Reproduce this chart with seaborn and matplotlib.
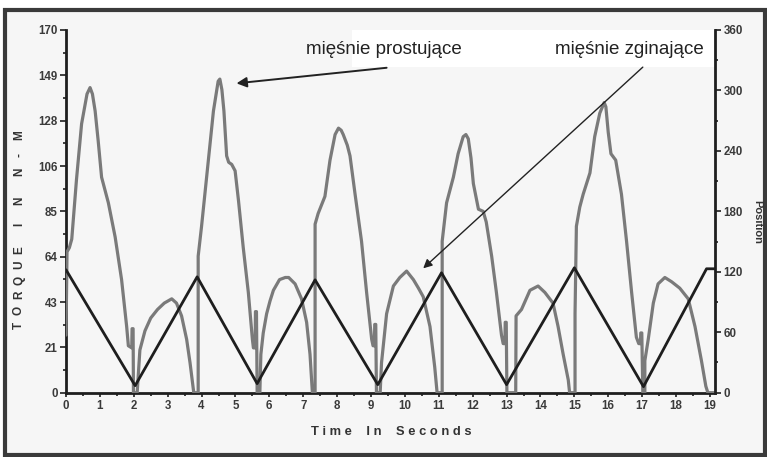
import numpy as np
import pandas as pd
import matplotlib
matplotlib.use("Agg")
import matplotlib.pyplot as plt
import seaborn as sns
from matplotlib.patches import Rectangle
from matplotlib.ticker import FixedLocator, MultipleLocator

# ---------------- data ----------------
torque_time = [
    0.00, 0.03, 0.10, 0.17, 0.31, 0.46, 0.62, 0.71, 0.78, 0.86, 0.95, 1.05, 1.15, 1.25, 1.45, 1.64, 1.79, 1.84,
    1.94, 1.95, 1.98, 1.99, 2.10,
    2.14, 2.18, 2.33, 2.50, 2.70, 2.90, 3.12, 3.26, 3.41, 3.56, 3.66, 3.74, 3.77, 3.90,
    3.90, 4.00, 4.20, 4.35, 4.49, 4.54, 4.60, 4.66, 4.74, 4.80, 4.89, 4.99, 5.09, 5.23, 5.38, 5.50, 5.53,
    5.58, 5.59, 5.62, 5.64, 5.72,
    5.75, 5.82, 5.92, 6.02, 6.12, 6.30, 6.47, 6.57, 6.76, 6.95, 7.10, 7.20, 7.27, 7.35,
    7.35, 7.44, 7.64, 7.79, 7.94, 8.04, 8.12, 8.18, 8.30, 8.38, 8.53, 8.72, 8.87, 9.02, 9.06,
    9.10, 9.11, 9.14, 9.16, 9.27,
    9.31, 9.46, 9.66, 9.85, 10.05, 10.25, 10.40, 10.54, 10.74, 10.88, 10.95, 11.10,
    11.10, 11.23, 11.43, 11.57, 11.72, 11.80, 11.87, 11.95, 12.02, 12.17, 12.31, 12.40, 12.56, 12.70, 12.85,
    12.90, 12.95, 12.96, 12.99, 13.01, 13.27,
    13.28, 13.44, 13.69, 13.93, 14.13, 14.37, 14.52, 14.67, 14.82, 14.86, 15.02,
    15.02, 15.06, 15.16, 15.26, 15.46, 15.60, 15.75, 15.88, 15.93, 16.00, 16.08, 16.22, 16.39, 16.54, 16.69,
    16.83, 16.90, 16.95, 16.96, 16.99, 17.02, 17.08,
    17.08, 17.18, 17.33, 17.47, 17.67, 17.87, 18.11, 18.36, 18.56, 18.75, 18.88, 18.94, 19.15,
]
torque_val = [
    27, 66, 68, 72, 100, 126, 140, 143, 140, 132, 118, 101, 95, 89, 73, 53, 31, 22,
    21, 30, 30, 0, 0,
    10, 20, 29, 35, 39, 42, 44, 42, 36, 25, 14, 4, 0, 0,
    64, 78, 109, 132, 146, 147, 142, 132, 111, 108, 107, 104, 90, 68, 47, 25, 21,
    21, 38, 38, 0, 0,
    18, 28, 37, 43, 48, 53, 54, 54, 51, 44, 33, 18, 0, 0,
    79, 84, 92, 109, 121, 124, 123, 121, 116, 111, 93, 71, 47, 25, 22,
    22, 32, 32, 0, 0,
    14, 37, 50, 54, 57, 53, 49, 45, 31, 12, 0, 0,
    71, 89, 101, 112, 120, 121, 119, 110, 98, 86, 85, 80, 64, 47, 27,
    23, 23, 33, 33, 0, 0,
    36, 39, 48, 50, 47, 42, 31, 18, 6, 0, 0,
    37, 78, 87, 93, 103, 120, 131, 136, 134, 122, 112, 109, 93, 71, 47,
    26, 23, 23, 28, 28, 0, 0,
    15, 25, 42, 51, 54, 52, 49, 44, 31, 15, 3, 0, 0,
]
position_time = [0.0, 2.04, 3.87, 5.64, 7.35, 9.20, 11.08, 13.00, 15.00, 17.04, 18.90, 19.15]
position_val = [122, 7, 115, 9, 112, 8, 119, 8, 124, 6, 123, 123]

x_ticks = list(range(0, 20))
left_tick_labels = ["0", "21", "43", "64", "85", "106", "128", "149", "170"]
right_ticks = [0, 60, 120, 180, 240, 300, 360]
annot_texts = ["mięśnie prostujące", "mięśnie zginające"]
y_title_chars = ["T", "O", "R", "Q", "U", "E", "I", "N", "N", "-", "M"]

torque_df = pd.DataFrame({"t": torque_time, "torque": torque_val})
pos_df = pd.DataFrame({"t": position_time, "pos": position_val})

# ---------------- style ----------------
sns.set_theme(style="ticks")
plt.rcParams["font.family"] = ["Liberation Sans", "DejaVu Sans"]

W, H = 767, 457
fig = plt.figure(figsize=(W / 100, H / 100), dpi=100)
fig.patch.set_facecolor("white")
frame = Rectangle((5 / W, 2 / H), 760 / W, 445 / H, transform=fig.transFigure,
                  facecolor="#f6f6f6", edgecolor="#3a3a3a", linewidth=3, zorder=-10)
fig.patches.append(frame)

ax_l, ax_r, ax_b, ax_t = 66, 715, 392.7, 30
ax = fig.add_axes([ax_l / W, 1 - ax_b / H, (ax_r - ax_l) / W, (ax_b - ax_t) / H])
ax.set_facecolor("none")
ax2 = ax.twinx()
ax2.set_facecolor("none")

XMAX = 19.15
ax.set_xlim(0, XMAX)
ax.set_ylim(0, 170)
ax2.set_ylim(0, 360)

# white box behind the annotation texts
ax.add_patch(Rectangle((8.44, 152.6), XMAX - 8.44, 170 - 152.6, facecolor="white",
                       edgecolor="none", zorder=0))

sns.lineplot(data=torque_df, x="t", y="torque", ax=ax, sort=False, estimator=None,
             color="#7a7a7a", linewidth=2.3, zorder=3)
sns.lineplot(data=pos_df, x="t", y="pos", ax=ax2, sort=False, estimator=None,
             color="#1e1e1e", linewidth=2.0, zorder=4)

# spines
for s in ["top", "right"]:
    ax.spines[s].set_visible(False)
for s in ["top", "left", "bottom"]:
    ax2.spines[s].set_visible(False)
for sp in [ax.spines["left"], ax.spines["bottom"], ax2.spines["right"]]:
    sp.set_color("#1e1e1e")
    sp.set_linewidth(2.0)

tick_font = dict(fontsize=8.3, fontweight="bold", color="#3a3a3a")

# x ticks
ax.xaxis.set_major_locator(FixedLocator(x_ticks))
ax.xaxis.set_minor_locator(MultipleLocator(0.5))
ax.set_xticklabels([str(v) for v in x_ticks], **tick_font)
ax.tick_params(axis="x", which="major", direction="out", length=3, width=1.2, color="#1e1e1e", pad=2)
ax.tick_params(axis="x", which="minor", direction="out", length=2, width=1.2, color="#1e1e1e")

# left y ticks
left_pos = [i * 170 / (len(left_tick_labels) - 1) for i in range(len(left_tick_labels))]
ax.yaxis.set_major_locator(FixedLocator(left_pos))
ax.yaxis.set_minor_locator(FixedLocator([p + 170 / 16 for p in left_pos[:-1]]))
ax.set_yticklabels(left_tick_labels, **tick_font)
ax.tick_params(axis="y", which="major", direction="out", length=4, width=1.2, color="#1e1e1e", pad=2)
ax.tick_params(axis="y", which="minor", direction="out", length=2.5, width=1.2, color="#1e1e1e")

# right y ticks
ax2.yaxis.set_major_locator(FixedLocator(right_ticks))
ax2.yaxis.set_minor_locator(MultipleLocator(30))
ax2.set_yticklabels([str(v) for v in right_ticks], **tick_font)
ax2.tick_params(axis="y", which="major", direction="out", length=4, width=1.2, color="#1e1e1e", pad=2)
ax2.tick_params(axis="y", which="minor", direction="out", length=2.5, width=1.2, color="#1e1e1e")

ax.set_xlabel("")
ax.set_ylabel("")
ax2.set_ylabel("")

# axis titles (left title is letter-spaced, one glyph per position)
y_title_centers = [325, 310, 295, 280, 265, 250, 224, 201, 172, 155, 135]
for ch, yc in zip(y_title_chars, y_title_centers):
    fig.text(19 / W, 1 - yc / H, ch, rotation=90, ha="center", va="center",
             fontsize=8.5, fontweight="bold", color="#333333")
fig.text(391 / W, 1 - 432 / H, "T i m e    I n    S e c o n d s", ha="center", va="center",
         fontsize=9.3, fontweight="bold", color="#333333")
fig.text(757 / W, 1 - 222 / H, "Position", rotation=270, ha="center", va="center",
         fontsize=8, fontweight="bold", color="#333333")

# annotations
ax.text(9.38, 161, annot_texts[0], ha="center", va="center", fontsize=13.5, color="#222222", zorder=6)
ax.text(16.62, 161, annot_texts[1], ha="center", va="center", fontsize=13.5, color="#222222", zorder=6)
ax.annotate("", xy=(5.03, 145), xytext=(9.46, 152.3),
            arrowprops=dict(arrowstyle="-|>", color="#222222", lw=1.4, mutation_scale=15,
                            shrinkA=0, shrinkB=0), zorder=6)
ax.annotate("", xy=(10.54, 58.3), xytext=(17.02, 152.6),
            arrowprops=dict(arrowstyle="-|>", color="#222222", lw=1.0, mutation_scale=13,
                            shrinkA=0, shrinkB=0), zorder=6)

fig.savefig("out.png", dpi=100)
